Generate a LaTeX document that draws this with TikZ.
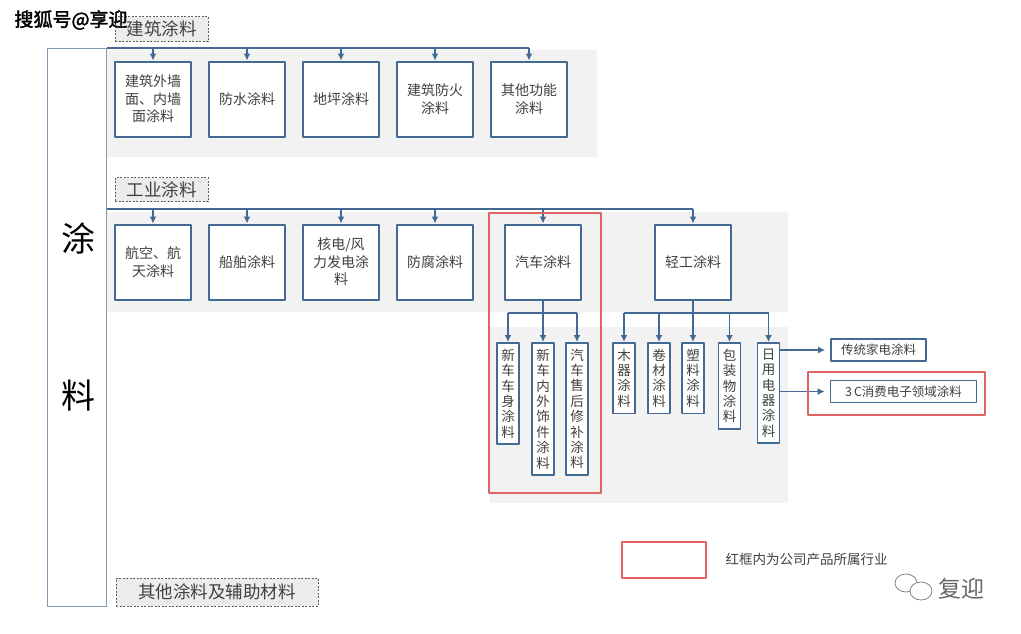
\documentclass[tikz,border=0pt]{standalone}
\usepackage{fontspec}
\newfontfamily\cjk{Noto Sans CJK SC}
\newfontfamily\cjkbold[FakeBold=2]{Noto Sans CJK SC}
\usetikzlibrary{arrows.meta,positioning}
\definecolor{boxblue}{RGB}{66,106,148}
\definecolor{panelgray}{RGB}{242,242,242}
\definecolor{taggray}{RGB}{236,236,236}
\definecolor{tagline}{RGB}{95,95,95}
\definecolor{framered}{RGB}{225,100,100}
\definecolor{txtgray}{RGB}{64,64,64}
\definecolor{sideline}{RGB}{130,155,180}
\tikzset{
  catbox/.style={draw=boxblue, line width=2pt, fill=white, minimum width=76pt, minimum height=75pt,
    align=center, text=txtgray, inner sep=2pt, font=\cjk\fontsize{14}{17.5}\selectfont},
  subbox/.style={draw=boxblue, line width=1.6pt, fill=white, minimum width=22pt, text width=14pt,
    align=center, anchor=north, inner xsep=0pt, inner ysep=6pt, text=txtgray,
    font=\cjk\fontsize{13.5}{15.4}\selectfont},
  sidebox/.style={draw=boxblue, line width=1.6pt, fill=white, minimum height=22pt, inner xsep=8pt,
    text=txtgray, font=\cjk\fontsize{12.5}{14}\selectfont},
  tagbox/.style={draw=tagline, dash pattern=on 2pt off 1.5pt, line width=0.9pt, fill=taggray, minimum height=25pt,
    inner xsep=4pt, text=txtgray, font=\cjk\fontsize{17.5}{20}\selectfont},
  redframe/.style={draw=framered, line width=1.2pt},
  link/.style={draw=boxblue, line width=1.8pt},
  arr/.style={link, -{Latex[length=7pt,width=7pt]}},
}
\begin{document}
\begin{tikzpicture}[x=1pt, y=-1pt, font=\cjk, line join=round]
\useasboundingbox (0,0) rectangle (1021,633);
% background panels
\fill[panelgray] (107,50) rectangle (597,157);
\fill[panelgray] (107,212) rectangle (788,312);
\fill[panelgray] (490,327) rectangle (788,503);
% the big column on the left
\node[draw=sideline, line width=1.5pt, fill=white, minimum width=59pt, minimum height=558pt] (tuliao) at (77,327.5) {};
\node[font=\cjk\fontsize{34}{34}\selectfont] (tu) at (78,238) {涂};
\node[font=\cjk\fontsize{34}{34}\selectfont] (liao) at (78,396) {料};
% group tags
\node[tagbox, minimum width=93pt] (jzTag) at (161.5,29) {建筑涂料};
\node[tagbox, minimum width=93pt, minimum height=24pt] (gyTag) at (161.5,189.5) {工业涂料};
\node[tagbox, minimum width=202pt, minimum height=28pt] (qtTag) at (217,592) {其他涂料及辅助材料};
% architecture coatings
\node[catbox] (j1) at (153,99) {建筑外墙\\面、内墙\\面涂料};
\node[catbox, right=16pt of j1] (j2) {防水涂料};
\node[catbox, right=16pt of j2] (j3) {地坪涂料};
\node[catbox, right=16pt of j3] (j4) {建筑防火\\涂料};
\node[catbox, right=16pt of j4] (j5) {其他功能\\涂料};
\draw[link] (tuliao.north east) -- (tuliao.north east -| j5.north);
\foreach \n in {j1,j2,j3,j4,j5}
  \draw[arr] (tuliao.north east -| \n.north) -- (\n.north);
% industrial coatings
\node[catbox] (g1) at (153,262) {航空、航\\天涂料};
\node[catbox, right=16pt of g1] (g2) {船舶涂料};
\node[catbox, right=16pt of g2] (g3) {核电/风\\力发电涂\\料};
\node[catbox, right=16pt of g3] (g4) {防腐涂料};
\node[catbox] (qc) at (543,262) {汽车涂料};
\node[catbox] (qg) at (693,262) {轻工涂料};
\coordinate (bus2) at (107,209);
\draw[link] (bus2) -- (bus2 -| qg.north);
\foreach \n in {g1,g2,g3,g4,qc,qg}
  \draw[arr] (bus2 -| \n.north) -- (\n.north);
% automotive
\node[subbox] (c1) at (508,342) {新\\车\\车\\身\\涂\\料};
\node[subbox] (c2) at (543,342) {新\\车\\内\\外\\饰\\件\\涂\\料};
\node[subbox] (c3) at (577,342) {汽\\车\\售\\后\\修\\补\\涂\\料};
\coordinate (cbus) at (543,313);
\draw[link] (qc.south) -- (cbus);
\draw[link] (cbus -| c1.north) -- (cbus -| c3.north);
\foreach \n in {c1,c2,c3}
  \draw[arr] (cbus -| \n.north) -- (\n.north);
\draw[redframe] (489,213) rectangle (601,493);
% light industry
\node[subbox] (l1) at (624,342) {木\\器\\涂\\料};
\node[subbox] (l2) at (659,342) {卷\\材\\涂\\料};
\node[subbox] (l3) at (693,342) {塑\\料\\涂\\料};
\node[subbox] (l4) at (729.5,342) {包\\装\\物\\涂\\料};
\node[subbox] (l5) at (768.5,342) {日\\用\\电\\器\\涂\\料};
\coordinate (lbus) at (693,313);
\draw[link] (qg.south) -- (lbus);
\draw[link] (lbus -| l1.north) -- (lbus -| l5.north);
\foreach \n in {l1,l2,l3,l4,l5}
  \draw[arr] (lbus -| \n.north) -- (\n.north);
% appliances
\node[sidebox, minimum width=95pt] (jd) at (878.5,350) {传统家电涂料};
\node[sidebox, minimum width=146pt] (dz) at (903.5,391.5) {3\,C消费电子领域涂料};
\draw[arr, shorten >=5pt] (l5.east |- jd.west) -- (jd.west);
\draw[arr, shorten >=5pt] (l5.east |- dz.west) -- (dz.west);
\draw[redframe] (808,372) rectangle (985,415);
% legend
\draw[redframe] (622,542) rectangle (706,578);
\node[anchor=west, text=txtgray, font=\cjk\fontsize{13.5}{15}\selectfont] (legend) at (722,559) {红框内为公司产品所属行业};
% marks
\node[anchor=west, font=\cjkbold\fontsize{19}{20}\selectfont] (mark1) at (11,20) {搜狐号@享迎};
\draw[gray, line width=0.8pt] (906,583) ellipse (11pt and 9pt);
\draw[gray, line width=0.8pt, fill=white] (921,591) ellipse (11pt and 9pt);
\node[anchor=west, text=gray!80!black, font=\cjk\fontsize{23}{24}\selectfont] (mark2) at (935,589) {复迎};
\end{tikzpicture}
\end{document}
